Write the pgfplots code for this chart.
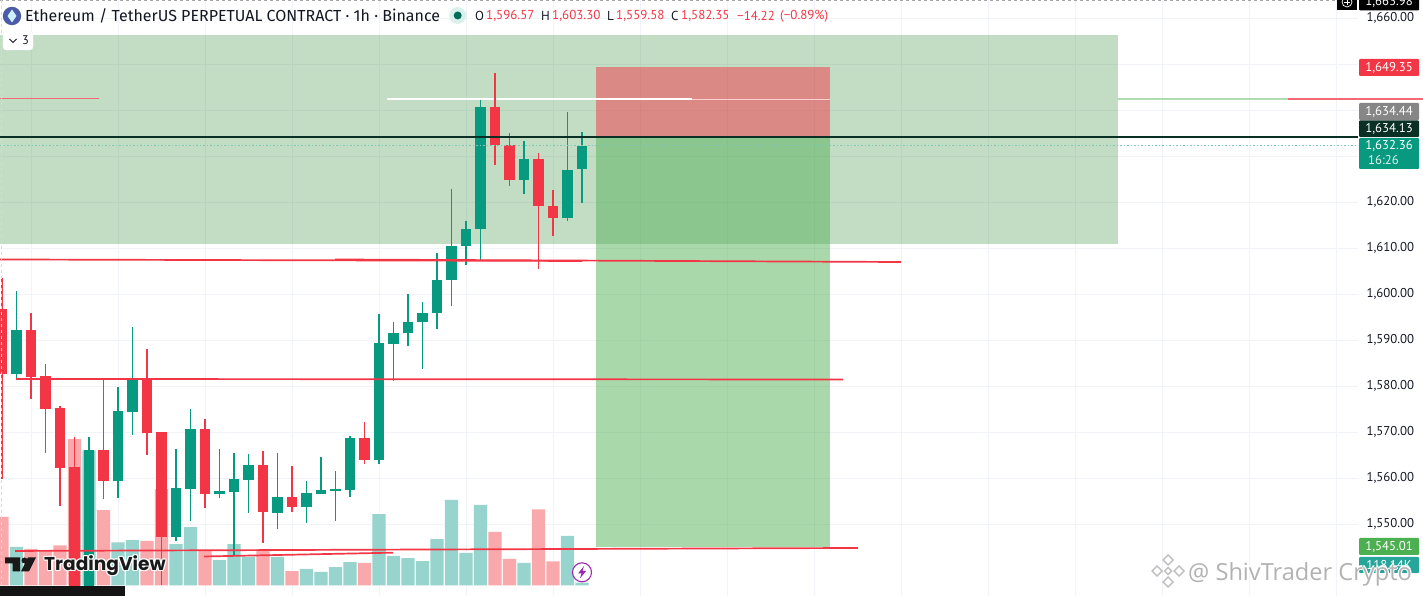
\documentclass[border=0pt]{standalone}
\usepackage{fontspec}
\usepackage{pgfplots}
\pgfplotsset{compat=1.18}
\setmainfont{PT Sans}
\newfontfamily\tvfont{Poppins}
\newfontfamily\wmfont{Open Sans}
\newfontfamily\ttlfont{Fira Sans}
\definecolor{upc}{HTML}{089981}
\definecolor{dnc}{HTML}{F23645}
\definecolor{upv}{HTML}{96D4CD}
\definecolor{dnv}{HTML}{F9A9AC}
\definecolor{gridc}{HTML}{F0F3F7}
\definecolor{zonec}{HTML}{388E3C}
\definecolor{posg}{HTML}{4CAF50}
\definecolor{txt}{HTML}{131722}
\definecolor{entry}{HTML}{0A2F25}
\definecolor{ethc}{HTML}{4A5BA8}
\definecolor{leg}{HTML}{F23645}
\definecolor{labteal}{HTML}{26A69A}
\definecolor{purp}{HTML}{9C27B0}
\pgfplotsset{
  base/.style={scale only axis,width=1358pt,height=596pt,
    xmin=-0.138,xmax=93.517,ymin=1534.41,ymax=1663.98},
}
\newcommand\fs[1]{\fontsize{#1}{#1}\selectfont}
\begin{document}
\begin{tikzpicture}
\useasboundingbox (0,0) rectangle (1423pt,596pt);
\clip (0,0) rectangle (1423pt,596pt);
% --- background: grid, price ticks, zones
\begin{axis}[base,clip=false,
  axis line style={draw=none},
  major tick length=0pt,minor tick length=0pt,
  xtick={2,8,...,92},xticklabels={},
  ytick={1550,1560,1570,1580,1590,1600,1610,1620,1660},
  minor ytick={1630,1640,1650},
  grid=both,
  major grid style={gridc,line width=1pt},
  minor grid style={gridc,line width=1pt},
  yticklabel pos=right,
  yticklabel style={/pgf/number format/.cd,fixed,fixed zerofill,precision=2,1000 sep={,},assume math mode=true,/tikz/.cd,
    font=\fs{12.8},text=txt,xshift=5pt},
]
\addplot[draw=none,fill=zonec,fill opacity=0.3] coordinates {(-0.138,1656.37)(76.97,1656.37)(76.97,1610.94)(-0.138,1610.94)} -- cycle;
\addplot[draw=none,fill=dnc,fill opacity=0.5] coordinates {(40.97,1649.35)(57.10,1649.35)(57.10,1634.13)(40.97,1634.13)} -- cycle;
\addplot[draw=none,fill=posg,fill opacity=0.48] coordinates {(40.97,1634.13)(57.10,1634.13)(57.10,1545.01)(40.97,1545.01)} -- cycle;
\addplot[dnc!75,line width=1pt] coordinates {(-0.138,1642.46)(6.69,1642.46)};
\addplot[posg!45,line width=1.1pt] coordinates {(76.97,1642.46)(88.69,1642.46)};
\addplot[dnc!75,line width=1.1pt] coordinates {(88.69,1642.46)(98,1642.46)};
\addplot[white,line width=1.4pt] coordinates {(26.55,1642.46)(47.59,1642.46)};
\addplot[white!75!dnc,line width=0.9pt] coordinates {(47.59,1642.46)(57.10,1642.46)};
\end{axis}
% --- volume
\begin{axis}[base,hide axis,ymin=-420,ymax=23420]
\addplot[ybar,bar width=13.3pt,bar shift=0pt,draw=none,fill=upv] coordinates {
(1,1548)(6,5400)(8,1720)(9,1812)(12,1652)(13,2332)(15,1012)(16,1652)(17,1148)(19,1148)
(21,668)(22,548)(23,732)(24,932)(26,2852)(27,1188)(28,1092)(29,972)(30,1852)(31,3428)(32,1308)(33,3228)(36,908)(39,1988)(40,118)};
\addplot[ybar,bar width=13.3pt,bar shift=0pt,draw=none,fill=dnv] coordinates {
(0,2748)(2,1460)(3,1412)(4,1600)(5,5852)(7,3012)(10,1788)(11,3852)(14,1388)(18,1440)(20,572)(25,908)(34,2148)(35,1068)(37,3040)(38,960)};
\end{axis}
% --- candles and drawn lines
\begin{axis}[base,hide axis,unbounded coords=jump,ymin=1534.13,ymax=1663.70]
% wicks (low, high)
\addplot[upc,line width=1.2pt,line cap=butt] coordinates {
(1,1581.09)(1,1600.44)(nan,nan)(6,1534.5)(6,1568.63)(nan,nan)(8,1555.37)(8,1579.57)(nan,nan)
(9,1569.20)(9,1592.61)(nan,nan)(12,1546.16)(12,1566.09)(nan,nan)(13,1550.37)(13,1574.79)(nan,nan)
(15,1555.37)(15,1566.09)(nan,nan)(16,1543.05)(16,1565.16)(nan,nan)(17,1552.24)(17,1564.94)(nan,nan)
(19,1548.63)(19,1565.16)(nan,nan)(21,1550.00)(21,1559.07)(nan,nan)(22,1556.30)(22,1564.29)(nan,nan)
(23,1550.50)(23,1561.31)(nan,nan)(24,1555.72)(24,1568.92)(nan,nan)(26,1562.90)(26,1595.44)(nan,nan)
(27,1580.94)(27,1593.77)(nan,nan)(28,1588.55)(28,1599.72)(nan,nan)(29,1583.55)(29,1598.11)(nan,nan)
(30,1592.11)(30,1608.63)(nan,nan)(31,1597.11)(31,1622.61)(nan,nan)(32,1606.16)(32,1615.66)(nan,nan)
(33,1607.18)(33,1641.96)(nan,nan)(36,1621.46)(36,1633.05)(nan,nan)(39,1615.66)(39,1639.35)(nan,nan)
(40,1619.63)(40,1634.94)};
\addplot[dnc,line width=1.2pt,line cap=butt] coordinates {
(0,1559.58)(0,1603.30)(nan,nan)(2,1576.96)(2,1595.59)(nan,nan)(3,1565.29)(3,1584.57)(nan,nan)
(4,1553.76)(4,1575.50)(nan,nan)(5,1534.5)(5,1568.70)(nan,nan)(7,1555.22)(7,1581.09)(nan,nan)
(10,1564.79)(10,1587.83)(nan,nan)(11,1536.53)(11,1569.79)(nan,nan)(14,1553.33)(14,1572.55)(nan,nan)
(18,1545.72)(18,1565.66)(nan,nan)(20,1552.46)(20,1562.50)(nan,nan)(25,1562.90)(25,1571.96)(nan,nan)
(34,1627.83)(34,1647.77)(nan,nan)(35,1623.33)(35,1634.72)(nan,nan)(37,1605.22)(37,1630.37)(nan,nan)
(38,1612.40)(38,1622.46)};
% bodies (bottom, top)
\addplot[upc,line width=10.8pt,line cap=butt] coordinates {
(1,1582.35)(1,1591.90)(nan,nan)(6,1535.5)(6,1565.94)(nan,nan)(8,1559.20)(8,1574.35)(nan,nan)
(9,1574.20)(9,1581.59)(nan,nan)(12,1547.03)(12,1557.55)(nan,nan)(13,1557.46)(13,1570.44)(nan,nan)
(15,1556.31)(15,1556.96)(nan,nan)(16,1556.81)(16,1559.50)(nan,nan)(17,1559.42)(17,1562.61)(nan,nan)
(19,1552.24)(19,1555.66)(nan,nan)(21,1553.48)(21,1556.53)(nan,nan)(22,1556.37)(22,1557.11)(nan,nan)
(23,1557.03)(23,1557.33)(nan,nan)(24,1557.18)(24,1568.42)(nan,nan)(26,1563.77)(26,1589.07)(nan,nan)
(27,1588.98)(27,1591.31)(nan,nan)(28,1591.24)(28,1593.77)(nan,nan)(29,1593.70)(29,1595.66)(nan,nan)
(30,1595.59)(30,1602.83)(nan,nan)(31,1602.77)(31,1610.29)(nan,nan)(32,1610.22)(32,1613.92)(nan,nan)
(33,1613.85)(33,1640.44)(nan,nan)(36,1624.63)(36,1629.13)(nan,nan)(39,1616.31)(39,1626.81)(nan,nan)
(40,1626.90)(40,1632.03)};
\addplot[dnc,line width=10.8pt,line cap=butt] coordinates {
(0,1582.35)(0,1596.57)(nan,nan)(2,1581.74)(2,1591.90)(nan,nan)(3,1574.85)(3,1581.96)(nan,nan)
(4,1562.03)(4,1575.00)(nan,nan)(5,1535.5)(5,1562.18)(nan,nan)(7,1559.20)(7,1565.94)(nan,nan)
(10,1569.64)(10,1581.59)(nan,nan)(11,1547.03)(11,1569.72)(nan,nan)(14,1556.31)(14,1570.44)(nan,nan)
(18,1552.33)(18,1562.61)(nan,nan)(20,1553.55)(20,1555.66)(nan,nan)(25,1563.77)(25,1568.42)(nan,nan)
(34,1632.18)(34,1640.44)(nan,nan)(35,1624.63)(35,1632.18)(nan,nan)(37,1618.92)(37,1629.13)(nan,nan)
(38,1616.31)(38,1618.98)};
% lines
\addplot[dnc,line width=1.7pt] coordinates {(-0.138,1607.29)(40,1606.96)};
\addplot[dnc,line width=1.7pt] coordinates {(22.97,1607.29)(62,1606.74)};
\addplot[dnc,line width=1.7pt] coordinates {(0.966,1581.31)(58,1581.20)};
\addplot[dnc,line width=1.7pt] coordinates {(0.897,1543.92)(59.03,1544.57)};
\addplot[dnc,line width=1.7pt] coordinates {(13.93,1542.72)(26.97,1543.55)};
\end{axis}
\begin{axis}[base,hide axis]
\addplot[upc!55,line width=1.3pt,dash pattern=on 1.5pt off 2pt] coordinates {(-0.138,1632.36)(93.517,1632.36)};
\addplot[entry,line width=1.9pt] coordinates {(-0.138,1634.13)(93.517,1634.13)};
\end{axis}
% --- interface furniture, in pixels from the top left
\begin{scope}[x=1pt,y=-1pt,yshift=596pt]
\draw[gray!70,line width=0.9pt,dash pattern=on 3pt off 3pt] (0,0.7)--(1336,0.7);
\draw[gray!30,line width=1.1pt,dash pattern=on 3pt off 3pt] (1.7,0)--(1.7,586);
% header
\fill[ethc] (12,16) circle (9.2pt);
\fill[white!80!cyan] (12,9.5)--(16.5,16)--(12,22.5)--(7.5,16)--cycle;
\node[anchor=west,inner sep=0pt,text=txt,font=\ttlfont\fs{16}] at (25,16) {Ethereum / TetherUS PERPETUAL CONTRACT · 1h · Binance};
\fill[upc!15] (457.7,15.5) circle (8.5pt);
\fill[upc!70!black] (457.7,15.5) circle (4pt);
\foreach \x/\t/\c in {475/O/txt,486/{1,596.57}/leg,541/H/txt,552/{1,603.30}/leg,607/L/txt,616/{1,559.58}/leg,671/C/txt,681/{1,582.35}/leg,737/{−14.22}/leg,780/{(−0.89\%)}/leg}
  \node[anchor=west,inner sep=0pt,text=\c,font=\fs{13}] at (\x,16) {\t};
\filldraw[fill=white,draw=gridc,rounded corners=3pt] (3,31) rectangle (33,50);
\draw[txt,line width=0.8pt] (9.5,39)--(13,42.5)--(16.5,39);
\node[anchor=west,inner sep=0pt,text=txt,font=\fs{12.5}] at (22,40.5) {3};
% price tags
\fill[black] (1337,-5) rectangle (1357,10);
\draw[white,line width=0.7pt] (1347,2) circle (5pt);
\draw[white,line width=0.7pt] (1344,2)--(1350,2) (1347,-1)--(1347,5);
\fill[black,rounded corners=1pt] (1359,-8) rectangle (1419,10.5);
\node[text=white,font=\fs{12.8},inner sep=0pt] at (1389,1.5) {1,663.98};
\fill[dnc,rounded corners=1pt] (1359,59) rectangle (1419,76);
\node[text=white,font=\fs{12.8},inner sep=0pt] at (1389,67.5) {1,649.35};
\fill[gray!95,rounded corners=1pt] (1359,103) rectangle (1419,120);
\node[text=white,font=\fs{12.8},inner sep=0pt] at (1389,111.5) {1,634.44};
\fill[entry,rounded corners=1pt] (1359,120.3) rectangle (1419,137);
\node[text=white,font=\fs{12.8},inner sep=0pt] at (1389,128.5) {1,634.13};
\fill[upc,rounded corners=1pt] (1359,138) rectangle (1419,169);
\node[text=white,font=\fs{12.8},inner sep=0pt] at (1389,146) {1,632.36};
\node[text=white!85!upc,font=\fs{12.8},inner sep=0pt,anchor=west] at (1368,160) {16:26};
\fill[posg,rounded corners=1pt] (1359,538) rectangle (1419,555);
\node[text=white,font=\fs{12.8},inner sep=0pt] at (1389,546.5) {1,545.01};
\fill[labteal,rounded corners=1pt] (1359,557) rectangle (1419,573);
\node[text=white,font=\fs{12.8},inner sep=0pt] at (1389,565) {118.14K};
% TradingView mark
\fill[black!92] (0,586) rectangle (125,600);
\foreach \dx/\dy in {-1.2/0,1.2/0,0/-1.2,0/1.2,-0.9/-0.9,0.9/-0.9,-0.9/0.9,0.9/0.9}
  \node[anchor=west,inner sep=0pt,text=white,font=\tvfont\fs{18.6}\bfseries] at (44+\dx,565.5+\dy) {TradingView};
\node[anchor=west,inner sep=0pt,text=black!90,font=\tvfont\fs{18.6}\bfseries] at (44,565.5) {TradingView};
\fill[black!90] (5,557.5)--(20,557.5)--(20,571.5)--(12.5,571.5)--(12.5,563.5)--(5,563.5)--cycle;
\fill[black!90] (24.5,560.5) circle (3pt);
\fill[black!90] (28,557.5)--(36,557.5)--(29,571.5)--(21,571.5)--cycle;
% lightning badge
\filldraw[fill=white,draw=purp,line width=1.1pt] (582,572.3) circle (9.5pt);
\fill[purp] (584,566)--(578,573.5)--(581.5,573.5)--(580,578.5)--(586,571)--(582.5,571)--cycle;
% watermark
\foreach \cx/\cy/\r in {1168/560/5,1168/582/5,1157/571/5,1179/571/5,1168/571/3.5}
  \filldraw[fill=white,draw=gray!50,line width=1.4pt] (\cx-\r,\cy)--(\cx,\cy-\r)--(\cx+\r,\cy)--(\cx,\cy+\r)--cycle;
\foreach \dx/\dy in {-1.2/0,1.2/0,0/-1.2,0/1.2}
  \node[anchor=west,inner sep=0pt,text=white,font=\wmfont\fs{23.6}] at (1188+\dx,574+\dy) {@ ShivTrader Crypto};
\node[anchor=west,inner sep=0pt,text=gray!60,font=\wmfont\fs{23.6}] at (1188,574) {@ ShivTrader Crypto};
\end{scope}
\end{tikzpicture}
\end{document}
